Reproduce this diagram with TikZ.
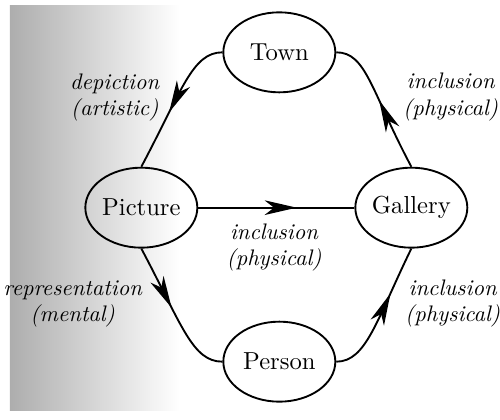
\documentclass[tikz,border=0pt]{standalone}
\usetikzlibrary{arrows.meta, shapes.geometric, decorations.markings}
\tikzset{
  thing/.style={ellipse, draw, line width=0.8pt, minimum width=1.68cm,
    minimum height=1.2cm, inner sep=0pt, font=\fontsize{10.5}{12}\selectfont},
  rel/.style={line width=0.8pt, postaction={decorate},
    decoration={markings, mark=at position #1 with
      {\arrow{Stealth[length=4.8mm, width=2.2mm, inset=1.4mm]}}}},
  rellabel/.style={font=\fontsize{9.6}{11.2}\selectfont\itshape, align=center},
}
\begin{document}
\begin{tikzpicture}
  \useasboundingbox (0,0) rectangle (7.5,6.285);

  % scanned page shading on the left
  \shade[left color=black!32, middle color=black!12, right color=white]
    (0.15,0.13) rectangle (2.7,6.2);

  % --- Things --------------------------------------------------------------
  \node[thing] (town)    at (4.19,5.50) {Town};
  \node[thing] (picture) at (2.12,3.17) {Picture};
  \node[thing] (gallery) at (6.17,3.17) {Gallery};
  \node[thing] (person)  at (4.19,0.86) {Person};

  % --- Relations -----------------------------------------------------------
  \draw[rel=0.58] (town.west) to[out=180, in=62, out distance=0.45cm,
        in distance=1.3cm] (picture.north);
  \draw[rel=0.52] (gallery.north) to[out=118, in=0, out distance=1.3cm,
        in distance=0.45cm] (town.east);
  \draw[rel=0.63] (picture.east) -- (gallery.west);
  \draw[rel=0.46] (picture.south) to[out=-62, in=180, out distance=1.3cm,
        in distance=0.45cm] (person.west);
  \draw[rel=0.65] (person.east) to[out=0, in=-116, out distance=0.45cm,
        in distance=1.2cm] (gallery.south);

  % labels
  \node[rellabel] (lbldepict)  at (1.72,4.82) {depiction\\(artistic)};
  \node[rellabel] (lbltowngal) at (6.76,4.83) {inclusion\\(physical)};
  \node[rellabel] (lblpicgal)  at (4.11,2.57) {inclusion\\(physical)};
  \node[rellabel] (lblrepr)    at (1.09,1.73) {representation\\(mental)};
  \node[rellabel] (lblpergal)  at (6.79,1.73) {inclusion\\(physical)};

\end{tikzpicture}
\end{document}
